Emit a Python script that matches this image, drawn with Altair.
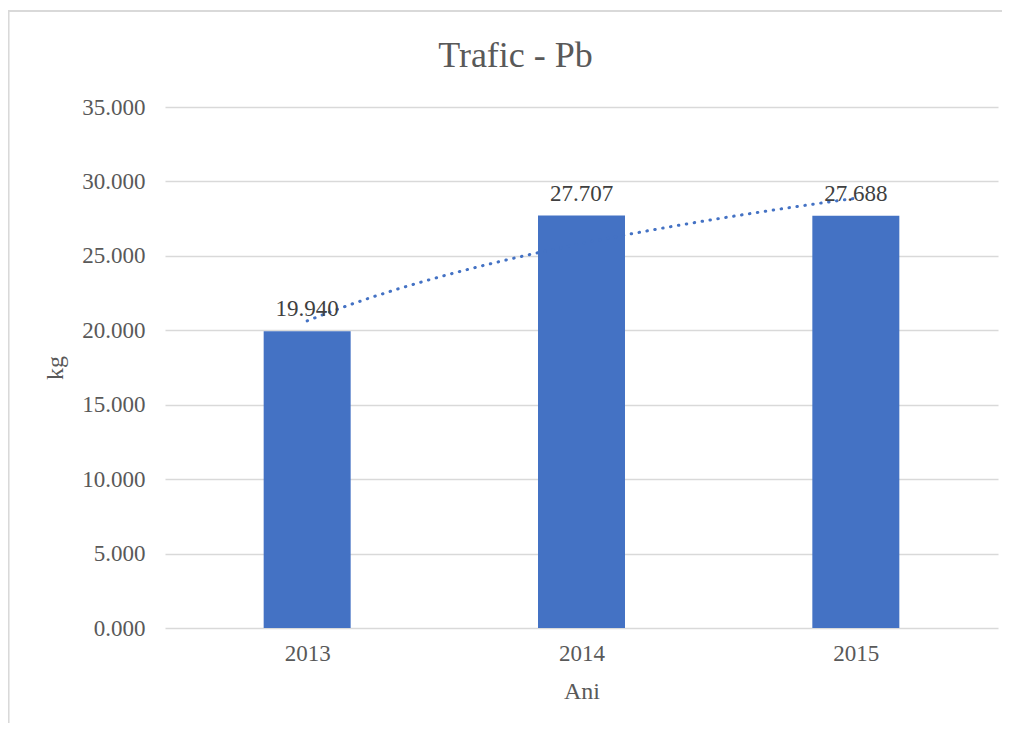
import altair as alt
import pandas as pd

years = ["2013", "2014", "2015"]
idx = [1, 2, 3]
values = [19.940, 27.707, 27.688]
y_ticks = [0, 5, 10, 15, 20, 25, 30, 35]
chart_title = "Trafic - Pb"

df = pd.DataFrame({"idx": idx, "year": years, "value": values})

FONT = "Liberation Serif"
BAR = "#4472C4"
GRID = "#D9D9D9"
TXT = "#595959"

label_expr = "[" + ",".join("'" + y + "'" for y in years) + "][datum.value - 1]"

x_enc = alt.X(
    "idx:Q",
    scale=alt.Scale(domain=[0.5, 3.5], nice=False, zero=False),
    axis=alt.Axis(
        values=idx, labelExpr=label_expr, title="Ani", grid=False,
        domain=False, ticks=False, tickSize=0, labelPadding=14,
        titlePadding=14,
    ),
)
y_enc = alt.Y(
    "value:Q",
    scale=alt.Scale(domain=[0, 35], nice=False),
    axis=alt.Axis(
        values=y_ticks, format=".3f", title="kg", grid=True,
        domain=False, ticks=False, tickSize=0, labelPadding=20,
        titlePadding=14,
    ),
)

base = alt.Chart(df)

bars = base.mark_bar(color=BAR, size=87).encode(x=x_enc, y=y_enc)

labels = base.mark_text(
    font=FONT, fontSize=23, color="#404040", baseline="alphabetic", dy=-15
).encode(x="idx:Q", y="value:Q", text=alt.Text("value:Q", format=".3f"))

trend = (
    base.transform_regression("idx", "value", method="log")
    .mark_line(color=BAR, strokeWidth=3, strokeDash=[0.5, 7.5], strokeCap="round")
    .encode(x="idx:Q", y="value:Q")
)

frame_top = base.mark_rule(color=GRID, strokeWidth=1.5).encode(
    x=alt.value(-157), x2=alt.value(900), y=alt.value(-96)
)
frame_left = base.mark_rule(color=GRID, strokeWidth=1.5).encode(
    x=alt.value(-156.5), y=alt.value(-96), y2=alt.value(700)
)

title_mark = alt.Chart(pd.DataFrame({"t": [chart_title]})).mark_text(
    font=FONT, fontSize=36, color=TXT, baseline="alphabetic", align="center"
).encode(x=alt.value(350.5), y=alt.value(-40), text="t:N")

chart = (
    alt.layer(frame_top, frame_left, bars, trend, labels, title_mark)
    .properties(
        width=833,
        height=521,
        autosize=alt.AutoSizeParams(type="none"),
        padding={"left": 157, "top": 99, "right": 4, "bottom": 95},
    )
    .configure_view(stroke=None)
    .configure_axis(
        labelFont=FONT, labelFontSize=23, labelColor=TXT,
        titleFont=FONT, titleFontSize=24, titleColor=TXT, titleFontWeight="normal",
        gridColor=GRID, gridWidth=1.5,
    )
)

chart.save("out.html", embed_options={"renderer": "svg", "actions": False})
